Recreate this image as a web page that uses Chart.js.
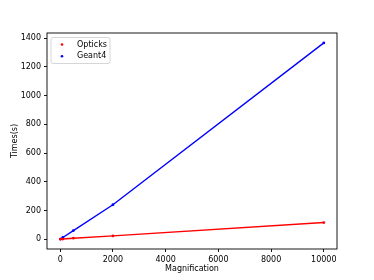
<!DOCTYPE html>
<html><head><meta charset="utf-8">
<script src="https://cdn.jsdelivr.net/npm/chart.js@4/dist/chart.umd.min.js"></script>
<style>html,body{margin:0;padding:0;background:#fff}#wrap{width:374px;height:280px}</style>
</head><body><div id="wrap"><canvas id="c" width="374" height="280"></canvas></div>
<script>
const magnification = [10, 100, 500, 2000, 10000];
const opticks = [0.2, 1.2, 7, 23, 116];
const geant4 = [1, 12, 60, 240, 1366];
const xTicks = [0, 2000, 4000, 6000, 8000, 10000];
const yTicks = [0, 200, 400, 600, 800, 1000, 1200, 1400];
const seriesNames = ['Opticks', 'Geant4'];
const seriesColors = ['#ff0000', '#0000ff'];

const FONT = 'DejaVu Sans';
const toPts = ys => magnification.map((x, i) => ({x: x, y: ys[i]}));

const framePlugin = {
  id: 'frame',
  afterDatasetsDraw(chart) {
    const {ctx, chartArea: a} = chart;
    ctx.save();
    ctx.strokeStyle = '#000';
    ctx.lineWidth = 0.9;
    ctx.strokeRect(a.left, a.top, a.right - a.left, a.bottom - a.top);
    // legend
    const bx = 51, by = 37.5, bw = 59, bh = 26, r = 2;
    ctx.globalAlpha = 0.8;
    ctx.fillStyle = '#fff';
    ctx.beginPath();
    ctx.roundRect(bx, by, bw, bh, r);
    ctx.fill();
    ctx.globalAlpha = 1;
    ctx.strokeStyle = '#cccccc';
    ctx.lineWidth = 0.8;
    ctx.stroke();
    ctx.font = '8px "' + FONT + '"';
    ctx.textBaseline = 'middle';
    ctx.textAlign = 'left';
    seriesNames.forEach((n, i) => {
      const yy = 44.5 + i * 11.7;
      ctx.fillStyle = seriesColors[i];
      ctx.beginPath();
      ctx.arc(62, yy, 1.3, 0, Math.PI * 2);
      ctx.fill();
      ctx.fillStyle = '#000';
      ctx.fillText(n, 77, yy);
    });
    ctx.restore();
  }
};

new Chart(document.getElementById('c'), {
  type: 'scatter',
  data: {
    datasets: [
      {label: seriesNames[0], data: toPts(opticks), showLine: true, borderColor: seriesColors[0], backgroundColor: seriesColors[0], borderWidth: 1.4, pointRadius: 1.4, pointBorderWidth: 0},
      {label: seriesNames[1], data: toPts(geant4), showLine: true, borderColor: seriesColors[1], backgroundColor: seriesColors[1], borderWidth: 1.4, pointRadius: 1.4, pointBorderWidth: 0}
    ]
  },
  options: {
    responsive: false,
    animation: false,
    devicePixelRatio: 1,
    layout: {padding: {left: 0, top: 33, right: 37, bottom: 0}},
    plugins: {legend: {display: false}, tooltip: {enabled: false}},
    scales: {
      x: {
        type: 'linear', min: -500, max: 10500,
        afterBuildTicks: s => { s.ticks = xTicks.map(v => ({value: v})); },
        afterFit: s => { s.height = 31; },
        grid: {display: true, drawOnChartArea: false, drawTicks: true, tickLength: 3, tickColor: '#000', tickWidth: 0.9},
        border: {display: false},
        ticks: {color: '#000', font: {family: FONT, size: 8}, padding: 3, maxRotation: 0, autoSkip: false, callback: v => String(v)},
        title: {display: true, text: 'Magnification', color: '#000', font: {family: FONT, size: 8}, padding: {top: 0, bottom: 6}}
      },
      y: {
        type: 'linear', min: -68, max: 1435,
        afterBuildTicks: s => { s.ticks = yTicks.map(v => ({value: v})); },
        afterFit: s => { s.width = 47; },
        grid: {display: true, drawOnChartArea: false, drawTicks: true, tickLength: 3, tickColor: '#000', tickWidth: 0.9},
        border: {display: false},
        ticks: {color: '#000', font: {family: FONT, size: 8}, padding: 3, autoSkip: false, callback: v => String(v)},
        title: {display: true, text: 'Times(s)', color: '#000', font: {family: FONT, size: 8}, padding: {top: 10, bottom: 0}}
      }
    }
  },
  plugins: [framePlugin]
});
</script></body></html>
